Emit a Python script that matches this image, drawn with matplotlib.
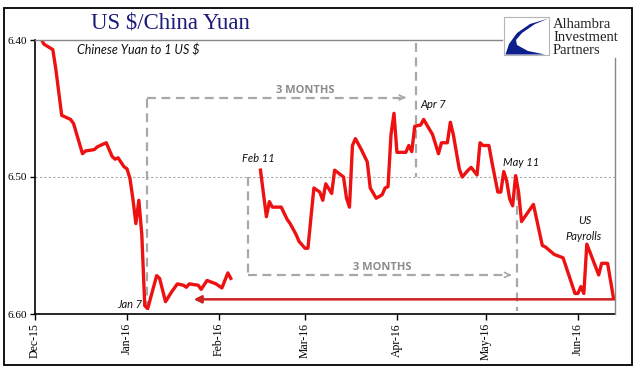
import numpy as np
import pandas as pd
import matplotlib
matplotlib.use("Agg")
import matplotlib.pyplot as plt
from matplotlib.lines import Line2D
from matplotlib.patches import Rectangle, Polygon

# ---------------- data ----------------
dates = [
    "2015-12-03", "2015-12-04", "2015-12-07", "2015-12-08", "2015-12-09", "2015-12-10",
    "2015-12-13", "2015-12-14", "2015-12-17", "2015-12-18", "2015-12-21", "2015-12-22",
    "2015-12-25", "2015-12-27", "2015-12-28", "2015-12-29", "2015-12-31", "2016-01-01",
    "2016-01-02", "2016-01-03", "2016-01-04", "2016-01-05", "2016-01-06", "2016-01-07",
    "2016-01-08", "2016-01-11", "2016-01-12", "2016-01-14", "2016-01-16", "2016-01-18",
    "2016-01-20", "2016-01-21", "2016-01-22", "2016-01-25", "2016-01-26", "2016-01-28",
    "2016-01-31", "2016-02-02", "2016-02-04", "2016-02-05", "2016-02-10",
    "2016-02-15", "2016-02-17", "2016-02-18", "2016-02-19", "2016-02-22", "2016-02-24",
    "2016-02-25", "2016-02-27", "2016-02-28", "2016-03-01", "2016-03-02", "2016-03-04",
    "2016-03-06", "2016-03-07", "2016-03-08", "2016-03-10", "2016-03-11", "2016-03-14",
    "2016-03-15", "2016-03-16", "2016-03-17", "2016-03-18", "2016-03-20", "2016-03-22",
    "2016-03-23", "2016-03-25", "2016-03-27", "2016-03-28", "2016-03-29", "2016-03-30",
    "2016-03-31", "2016-04-01", "2016-04-04", "2016-04-05", "2016-04-06", "2016-04-07",
    "2016-04-09", "2016-04-10", "2016-04-13", "2016-04-15", "2016-04-16", "2016-04-18",
    "2016-04-19", "2016-04-20", "2016-04-22", "2016-04-23", "2016-04-25", "2016-04-26",
    "2016-04-28", "2016-04-29", "2016-04-30", "2016-05-02", "2016-05-03", "2016-05-05",
    "2016-05-06", "2016-05-07", "2016-05-08", "2016-05-09", "2016-05-10", "2016-05-11",
    "2016-05-12", "2016-05-13", "2016-05-17", "2016-05-20", "2016-05-21", "2016-05-24",
    "2016-05-27", "2016-05-31", "2016-06-01", "2016-06-02", "2016-06-03", "2016-06-04",
    "2016-06-05", "2016-06-08", "2016-06-09", "2016-06-11", "2016-06-13",
]
cny_per_usd = [
    6.399, 6.403, 6.407, 6.421, 6.438, 6.455,
    6.458, 6.461, 6.483, 6.481, 6.480, 6.478,
    6.475, 6.485, 6.487, 6.486, 6.4925, 6.494,
    6.501, 6.516, 6.534, 6.517, 6.542, 6.594,
    6.596, 6.572, 6.574, 6.591, 6.584, 6.578,
    6.579, 6.5805, 6.578, 6.579, 6.582, 6.5755,
    6.578, 6.581, 6.570, 6.574, np.nan,
    6.495, 6.529, 6.518, 6.522, 6.522, 6.531,
    6.534, 6.542, 6.547, 6.552, 6.552, 6.508,
    6.511, 6.517, 6.505, 6.512, 6.495, 6.500,
    6.5155, 6.522, 6.477, 6.472, 6.480, 6.489,
    6.508, 6.5155, 6.513, 6.508, 6.507, 6.469,
    6.4535, 6.482, 6.482, 6.477, 6.4815, 6.463,
    6.462, 6.458, 6.469, 6.483, 6.475, 6.475,
    6.460, 6.469, 6.494, 6.500, 6.495, 6.493,
    6.4985, 6.475, 6.477, 6.477, 6.489, 6.511,
    6.511, 6.496, 6.503, 6.516, 6.521, 6.499,
    6.511, 6.5325, 6.520, 6.550, 6.551, 6.5565,
    6.559, 6.585, 6.585, 6.580, 6.585, 6.549,
    6.5545, 6.5715, 6.563, 6.563, 6.5885,
]
x_ticks = ["2015-12-01", "2016-01-01", "2016-02-01", "2016-03-01",
           "2016-04-01", "2016-05-01", "2016-06-01"]
y_ticks = [6.40, 6.50, 6.60]

# annotation anchors (event dates / levels)
jan7 = "2016-01-07 14:00"
feb11 = "2016-02-10 16:00"
apr7 = "2016-04-07 10:00"
may11 = "2016-05-11 12:00"
upper_arrow_end = "2016-04-03 12:00"
lower_arrow_end = "2016-05-09 00:00"
upper_level = 6.442
lower_level = 6.5715
red_arrow_level = 6.5893
red_arrow_tip = "2016-01-23 12:00"

W, H = 641, 381

def P(x, y):
    return (x / W, 1 - y / H)

fig = plt.figure(figsize=(W / 100, H / 100), dpi=100)
fig.patch.set_facecolor("white")
ax = fig.add_axes([35 / W, 1 - 314 / H, (615 - 35) / W, (314 - 40) / H])

d = pd.to_datetime(dates)
ax.plot(d, cny_per_usd, color="#ee1111", lw=2.4, solid_joinstyle="round", zorder=5)

ax.set_xlim(pd.Timestamp("2015-12-01"), pd.Timestamp("2016-06-13 12:00"))
ax.set_ylim(6.60, 6.40)

ax.set_yticks(y_ticks)
ax.set_yticklabels([f"{v:.2f}" for v in y_ticks], fontfamily="Liberation Serif", fontsize=8)
ax.set_xticks(pd.to_datetime(x_ticks))
ax.set_xticklabels([pd.Timestamp(t).strftime("%b-%y") for t in x_ticks],
                   rotation=90, fontfamily="Liberation Serif", fontsize=8.5)
ax.tick_params(axis="y", length=3.5, width=1, pad=2, direction="out")
ax.tick_params(axis="x", length=4.5, width=1, pad=2, direction="out")

for s in ["top", "right"]:
    ax.spines[s].set_visible(False)
ax.spines["left"].set_linewidth(1.2)
ax.spines["bottom"].set_linewidth(1.2)

# 6.50 dotted gridline
ax.axhline(6.50, color="#aaaaaa", lw=0.8, ls=(0, (2, 2)), zorder=1)

gray = "#a8a8a8"
dash = (0, (4, 2.5))
# upper bracket
ax.plot(pd.to_datetime([jan7, jan7]), [6.597, upper_level], color=gray, lw=1.6, ls=dash, zorder=2)
ax.plot(pd.to_datetime([jan7, upper_arrow_end]), [upper_level, upper_level], color=gray, lw=1.6, ls=dash, zorder=2)
ax.annotate("", xy=(pd.Timestamp(upper_arrow_end) + pd.Timedelta(days=1.5), upper_level),
            xytext=(pd.Timestamp(upper_arrow_end) - pd.Timedelta(days=1), upper_level),
            arrowprops=dict(arrowstyle="->", color=gray, lw=1.2, mutation_scale=9))
ax.plot(pd.to_datetime([apr7, apr7]), [6.402, 6.50], color=gray, lw=1.6, ls=dash, zorder=2)
ax.text(pd.Timestamp("2016-03-01"), 6.4365, "3 MONTHS", color="#8c8c8c", fontsize=8,
        fontweight="bold", fontfamily="Open Sans", ha="center", va="center")
# lower bracket
ax.plot(pd.to_datetime([feb11, feb11]), [6.50, lower_level], color=gray, lw=1.6, ls=dash, zorder=2)
ax.plot(pd.to_datetime([feb11, lower_arrow_end]), [lower_level, lower_level], color=gray, lw=1.6, ls=dash, zorder=2)
ax.annotate("", xy=(pd.Timestamp(lower_arrow_end) + pd.Timedelta(days=1.5), lower_level),
            xytext=(pd.Timestamp(lower_arrow_end) - pd.Timedelta(days=1), lower_level),
            arrowprops=dict(arrowstyle="->", color=gray, lw=1.2, mutation_scale=9))
ax.plot(pd.to_datetime([may11, may11]), [6.50, 6.598], color=gray, lw=1.6, ls=dash, zorder=2)
ax.text(pd.Timestamp("2016-03-27"), 6.5657, "3 MONTHS", color="#8c8c8c", fontsize=8,
        fontweight="bold", fontfamily="Open Sans", ha="center", va="center")

# red horizontal arrow
ax.annotate("", xy=(pd.Timestamp(red_arrow_tip), red_arrow_level),
            xytext=(pd.Timestamp("2016-06-13 12:00"), red_arrow_level),
            arrowprops=dict(arrowstyle="-|>", color="#cc2222", lw=1.8, mutation_scale=11,
                            shrinkA=0, shrinkB=0), zorder=4)

# event labels
lab = dict(fontsize=8, fontstyle="italic", fontfamily="Lato", color="#111111")
fig.text(*P(130, 305), "Jan 7", ha="center", va="center", **lab)
fig.text(*P(258, 159), "Feb 11", ha="center", va="center", **lab)
fig.text(*P(433, 104), "Apr 7", ha="center", va="center", **lab)
fig.text(*P(521, 163), "May 11", ha="center", va="center", **lab)
fig.text(*P(585, 221), "US", ha="center", va="center", **lab)
fig.text(*P(584, 236), "Payrolls", ha="center", va="center", **lab)
fig.text(*P(77, 50), "Chinese Yuan to 1 US $", ha="left", va="center",
         fontsize=9, fontstyle="italic", fontfamily="Lato", color="#111111")

# title
fig.text(*P(170, 23), "US $/China Yuan", ha="center", va="center",
         fontsize=16.5, fontfamily="Liberation Serif", color="#1c1c78")

# top gray line and right gray spine
fig.add_artist(Line2D([35 / W, 502 / W], [1 - 40 / H, 1 - 40 / H], color="#888888", lw=1))
fig.add_artist(Line2D([615 / W, 615 / W], [1 - 58 / H, 1 - 314 / H], color="#888888", lw=1))

# outer border
fig.add_artist(Rectangle(P(4, 365), (632 - 4) / W, (365 - 8) / H, fill=False,
                         edgecolor="black", lw=1.3, transform=fig.transFigure))

# logo
fig.add_artist(Rectangle(P(504, 55), 45 / W, 38 / H, facecolor="white",
                         edgecolor="#b5b5b5", lw=0.8, transform=fig.transFigure))
logo_pts = [(548.5, 18.5), (530, 24), (517, 33), (509, 44), (505.5, 54.5),
            (545, 54.5), (528, 51), (517, 45), (516, 40), (522, 33), (535, 24)]
fig.add_artist(Polygon([P(x, y) for x, y in logo_pts], closed=True,
                       facecolor="#0d1f8c", edgecolor="none", transform=fig.transFigure))
for txt, yy in [("Alhambra", 25), ("Investment", 37.5), ("Partners", 50)]:
    fig.text(*P(553, yy), txt, ha="left", va="center", fontsize=10.5,
             fontfamily="Liberation Serif", color="#222222")

fig.savefig("out.png", dpi=100, facecolor="white")
